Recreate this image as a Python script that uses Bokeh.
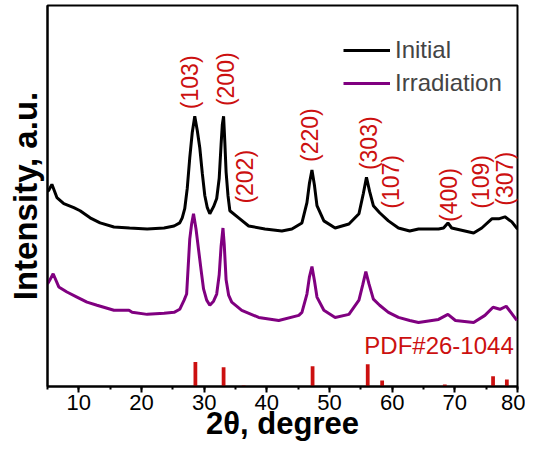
import math
from bokeh.plotting import figure
from bokeh.models import Range1d, SingleIntervalTicker, FixedTicker, Legend, LegendItem
from bokeh.core.properties import value
from bokeh.embed import file_html
from bokeh.resources import INLINE

# ---------------- data ----------------
tt_initial = [5.0, 5.2, 5.7, 6.5, 7.6, 9.2, 10.2, 11.8, 13.4, 15.6, 18.1, 20.9, 23.6, 25.2,
              26.1, 26.5, 26.9, 27.3, 27.7, 28.1, 28.5, 28.9, 29.3, 29.7, 30.1, 30.5, 30.9,
              31.5, 32.0, 32.4, 32.7, 32.9, 33.1, 33.3, 33.5, 33.8, 34.1, 35.5, 37.1, 39.7,
              42.4, 44.0, 45.6, 46.4, 46.8, 47.2, 47.6, 48.0, 49.1, 50.9, 53.1, 54.7, 55.4,
              55.9, 56.4, 57.0, 58.0, 59.4, 61.0, 62.8, 64.2, 67.4, 68.2, 68.9, 69.5, 71.6,
              73.0, 74.3, 75.9, 77.0, 78.0, 79.1, 80.0]
int_initial = [192, 193, 199, 186, 180, 176, 173, 166, 161, 157, 156, 155, 156, 158,
               161, 166, 175, 195, 225, 250, 266, 252, 235, 210, 188, 176, 170,
               177, 185, 205, 238, 258, 266, 240, 211, 188, 173, 166, 158, 155,
               153, 155, 161, 181, 200, 213, 198, 178, 163, 156, 160, 170, 190,
               206, 192, 178, 171, 163, 156, 153, 155, 155, 156, 161, 156, 153,
               151, 156, 165, 165, 167, 162, 155]

tt_irrad = [5.0, 5.3, 5.9, 6.8, 8.1, 9.7, 11.3, 12.9, 15.6, 18.0, 18.5, 20.9, 23.6, 25.2,
            26.1, 26.8, 27.2, 27.7, 28.0, 28.3, 28.7, 29.1, 29.5, 29.9, 30.4, 30.9, 31.5,
            32.0, 32.4, 32.7, 33.0, 33.2, 33.5, 33.9, 34.4, 36.0, 38.7, 41.9, 45.1, 45.6,
            46.4, 46.8, 47.2, 47.6, 48.0, 49.1, 50.9, 53.1, 54.7, 55.3, 55.8, 56.3, 57.0,
            58.0, 59.4, 61.0, 62.8, 64.2, 67.4, 68.9, 70.1, 73.0, 74.8, 76.1, 77.2, 78.2, 79.9]
int_irrad = [101, 104, 111, 98, 93, 88, 83, 80, 75, 75, 73, 71, 72, 73,
             76, 85, 91, 145, 160, 170, 155, 135, 115, 96, 85, 80, 84,
             91, 110, 138, 156, 140, 105, 90, 83, 75, 68, 65, 70, 73,
             91, 108, 118, 104, 88, 75, 68, 71, 85, 100, 113, 101, 86,
             80, 73, 68, 65, 63, 66, 71, 65, 63, 70, 78, 76, 79, 65]

pdf_pos = [28.6, 33.1, 36.3, 47.3, 56.1, 58.4, 68.4, 76.1, 78.3]
pdf_int = [24, 19, 1, 20, 22, 6, 2, 10, 7]

hkl_labels = ["(103)", "(200)", "(202)", "(220)", "(303)", "(107)", "(400)", "(109)", "(307)"]
hkl_x = [27.7, 33.5, 36.5, 46.9, 56.3, 59.8, 69.0, 74.1, 78.0]
hkl_y = [273, 276, 180, 221, 213, 175, 162, 175, 178]

x_label = "2θ, degree"
y_label = "Intensity, a.u."

FONT = "Liberation Sans"
RED = "#cc1010"

p = figure(width=525, height=443, output_backend="svg", toolbar_location=None,
           x_range=Range1d(5, 80), y_range=Range1d(0, 375),
           min_border_left=47, min_border_right=8, min_border_top=5, min_border_bottom=0)
p.grid.visible = False
p.outline_line_color = "black"
p.outline_line_width = 2
p.background_fill_color = "white"
p.border_fill_color = "white"

r1 = p.line(tt_initial, int_initial, line_color="black", line_width=3)
r2 = p.line(tt_irrad, int_irrad, line_color="#800080", line_width=3)

p.vbar(x=pdf_pos, top=pdf_int, bottom=0, width=0.6, fill_color=RED, line_color=None)

p.text(x=hkl_x, y=hkl_y, text=hkl_labels, angle=math.pi / 2,
       text_align="left", text_baseline="middle", text_color=RED,
       text_font=value(FONT), text_font_size="23px")

p.text(x=[79.4], y=[40], text=["PDF#26-1044"], text_align="right", text_baseline="middle",
       text_color=RED, text_font=value(FONT), text_font_size="24px")

# x axis
xa = p.xaxis[0]
xa.ticker = SingleIntervalTicker(interval=10, num_minor_ticks=2)
xa.axis_line_width = 2
xa.major_tick_in = 0
xa.major_tick_out = 6
xa.minor_tick_in = 0
xa.minor_tick_out = 3
xa.major_tick_line_width = 2
xa.minor_tick_line_width = 2
xa.major_label_text_font = FONT
xa.major_label_text_font_size = "22px"
xa.major_label_text_color = "black"
xa.major_label_standoff = 2
xa.axis_label = x_label
xa.axis_label_text_font = FONT
xa.axis_label_text_font_size = "31px"
xa.axis_label_text_font_style = "bold"
xa.axis_label_text_color = "black"
xa.axis_label_standoff = -7

# y axis
ya = p.yaxis[0]
ya.ticker = FixedTicker(ticks=[])
ya.axis_line_width = 2
ya.major_tick_in = 0
ya.major_tick_out = 0
ya.minor_tick_out = 0
ya.axis_label = y_label
ya.axis_label_text_font = FONT
ya.axis_label_text_font_size = "33px"
ya.axis_label_text_font_style = "bold"
ya.axis_label_text_color = "black"
ya.axis_label_standoff = 4

legend = Legend(items=[LegendItem(label="Initial", renderers=[r1]),
                       LegendItem(label="Irradiation", renderers=[r2])],
                location=(296, 289), glyph_width=47, glyph_height=20, label_standoff=5,
                label_text_font=FONT, label_text_font_size="24px", spacing=5,
                padding=0, margin=0, border_line_color=None, background_fill_alpha=0)
p.add_layout(legend, "center")

open("out.html", "w").write(file_html(p, INLINE))
